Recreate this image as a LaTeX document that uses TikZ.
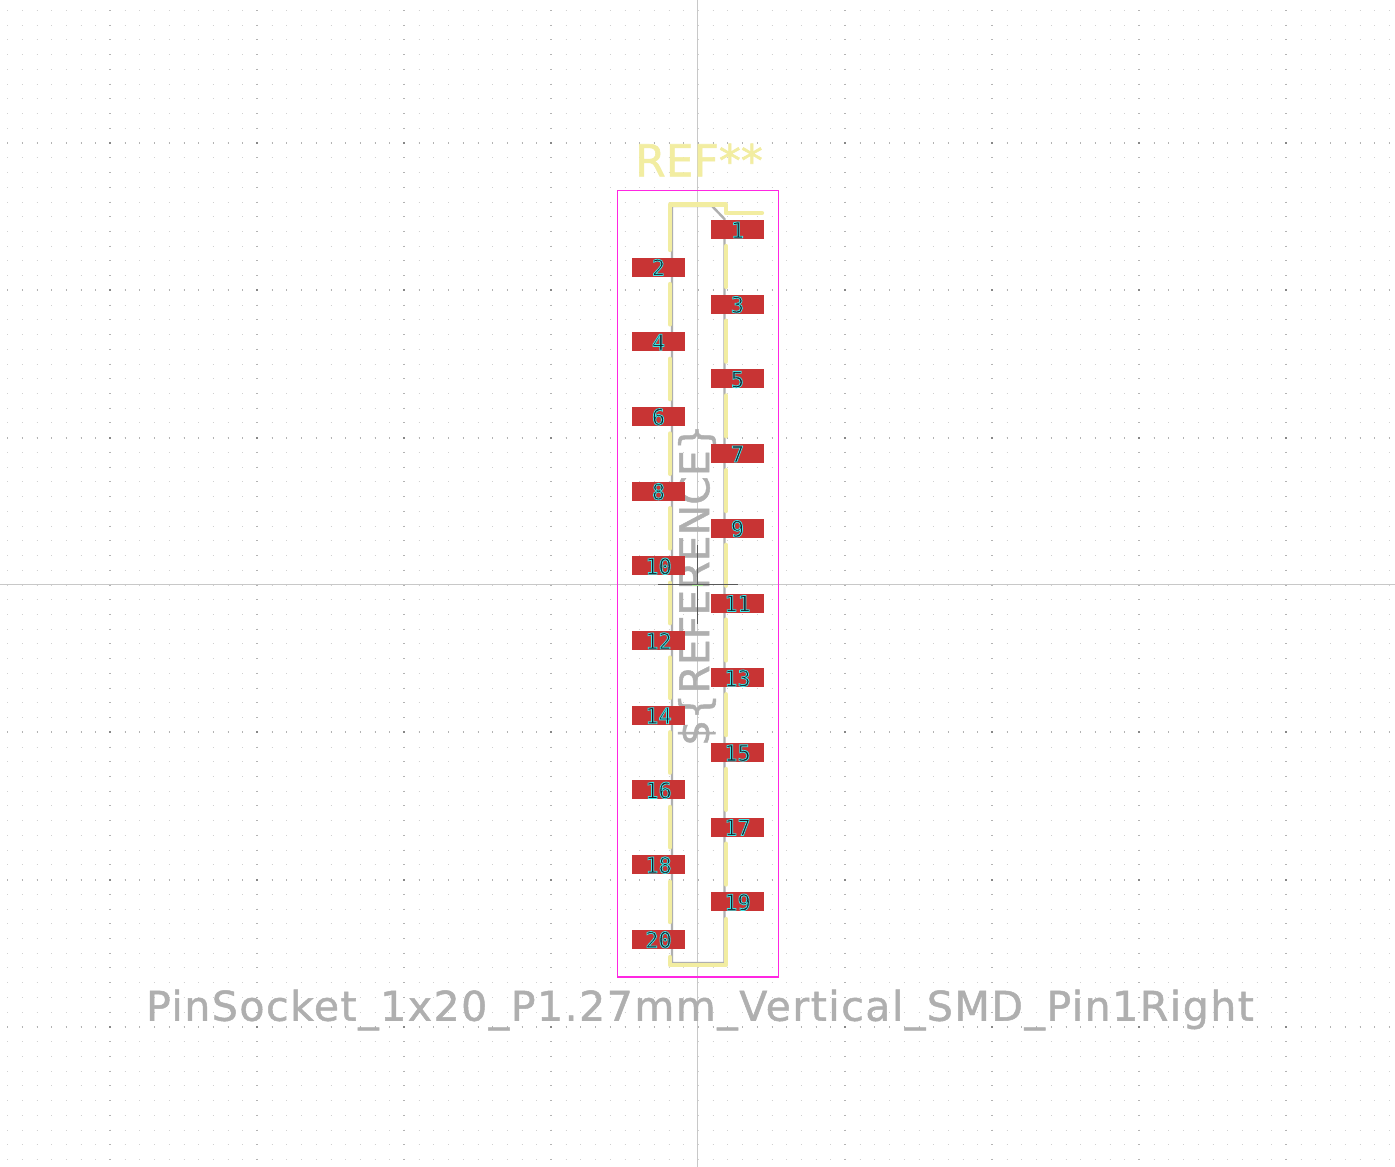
\documentclass[tikz,border=0pt]{standalone}
\usepackage{fontspec}
\setmainfont[FakeBold=1.2]{DejaVu Sans}
\newfontfamily\padfont[FakeBold=3.5]{DejaVu Sans Mono}
\newfontfamily\valuefont[LetterSpace=3.7,FakeBold=1.2]{DejaVu Sans}
\definecolor{silkcol}{RGB}{242,237,161}
\definecolor{padcol}{RGB}{200,52,52}
\definecolor{fabcol}{RGB}{175,175,175}
\definecolor{yardcol}{RGB}{255,38,226}
\definecolor{dotcol}{RGB}{208,208,208}
\definecolor{majordotcol}{RGB}{135,135,135}
\definecolor{axiscol}{RGB}{200,200,200}
\definecolor{markcol}{RGB}{170,235,150}
\newcommand{\padtext}[1]{\special{pdf:bcolor [0.08 0.12 0.16] [0.25 0.9 0.9]}\padfont #1\special{pdf:ecolor}}
\tikzset{
    padbox/.style={
        fill=padcol,
        minimum width=53pt,
        minimum height=19pt,
        inner sep=0pt,
        font=\fontsize{22}{22}\selectfont,
        text height=17pt,
        text depth=0pt
    },
    silkline/.style={
        draw=silkcol,
        line width=4.2pt,
        line cap=round,
        line join=round
    },
    fabline/.style={
        draw=fabcol,
        line width=2.4pt
    },
    axisline/.style={
        draw=axiscol,
        line width=1pt
    },
    anchorline/.style={
        draw=black!65,
        line width=1pt
    },
    dotrow/.style={
        draw=dotcol,
        line width=1pt,
        dash pattern=on 1pt off 13.7pt
    },
    dotcolumn/.style={
        draw=majordotcol!40!dotcol,
        line width=2pt,
        dash pattern=on 1pt off 13.73pt
    },
    majorrow/.style={
        draw=majordotcol!40!dotcol,
        line width=2pt,
        dash pattern=on 1pt off 13.7pt
    }
}

\begin{document}
\begin{tikzpicture}
[
    x=1pt,
    y=-1pt,
]
\useasboundingbox (0,0) rectangle (1395,1167);
\fill[white] (0,0) rectangle (1395,1167);

% grid
\foreach \j in {-39,...,39} {
    \draw[dotrow] (7.1,{585+14.73*\j}) -- (1395,{585+14.73*\j});
}
\foreach \i in {-4,-3,-2,-1,1,2,3,4} {
    \draw[dotcolumn] ({698+147*\i},10.03) -- ({698+147*\i},1167);
}
\foreach \j in {-3,-2,-1,1,2,3} {
    \draw[majorrow] (7.1,{585+147.3*\j}) -- (1395,{585+147.3*\j});
    \foreach \i in {-4,-3,-2,-1,1,2,3,4} {
        \fill[majordotcol] ({698+147*\i-1},{585+147.3*\j-1}) rectangle ++(2,2);
    }
}

% axes
\coordinate (axisW) at (0,584.5);
\coordinate (axisE) at (1395,584.5);
\coordinate (axisN) at (697.5,0);
\coordinate (axisS) at (697.5,1167);
\draw[axisline] (axisW) -- (axisE);
\draw[axisline] (axisN) -- (axisS);

% texts
\node[text=fabcol,font=\valuefont\fontsize{41}{41}\selectfont,inner sep=0pt] (valuetext) at (700,1010) {PinSocket\_1x20\_P1.27mm\_Vertical\_SMD\_Pin1Right};
\node[text=fabcol,font=\fontsize{41}{41}\selectfont,inner sep=0pt,rotate=90] (reftext) at (697,585) {\$\{REFERENCE\}};
\node[text=silkcol,font=\fontsize{44}{44}\selectfont,inner sep=0pt] (silktext) at (699,160) {REF**};

% outlines
\draw[draw=yardcol,line width=1.2pt] (617.5,190.5) rectangle (778.5,977);
\draw[fabline] (712,206) -- (672,206) -- (672,963) -- (724.5,963) -- (724.5,219) -- cycle;

% silk
\draw[silkline] (670,250) -- (670,204.5) -- (726,204.5) -- (726,213) -- (762,213);
\foreach \k in {0,...,8} {
    \draw[silkline] (670,{284+74.7*\k}) -- (670,{324.5+74.7*\k});
    \draw[silkline] (726,{246+74.7*\k}) -- (726,{287+74.7*\k});
}
\draw[silkline] (670,957) -- (670,965) -- (726,965) -- (726,919);

% pads
\foreach \k in {0,...,9} {
    \pgfmathtruncatemacro{\odd}{2*\k+1}
    \pgfmathtruncatemacro{\even}{2*\k+2}
    \node[padbox] (pad\odd) at (737.5,{229.5+74.7*\k}) {\padtext{\odd}};
    \node[padbox] (pad\even) at (658.5,{267+74.7*\k}) {\padtext{\even}};
}

% anchor
\coordinate (markW) at (658,584.5);
\coordinate (markE) at (738,584.5);
\coordinate (markN) at (697.5,545);
\coordinate (markS) at (697.5,624);
\coordinate (greenW) at (692,585.5);
\coordinate (greenE) at (703,585.5);
\draw[anchorline] (markW) -- (markE);
\draw[anchorline] (markN) -- (markS);
\draw[draw=markcol,line width=1pt] (greenW) -- (greenE);
\end{tikzpicture}
\end{document}
